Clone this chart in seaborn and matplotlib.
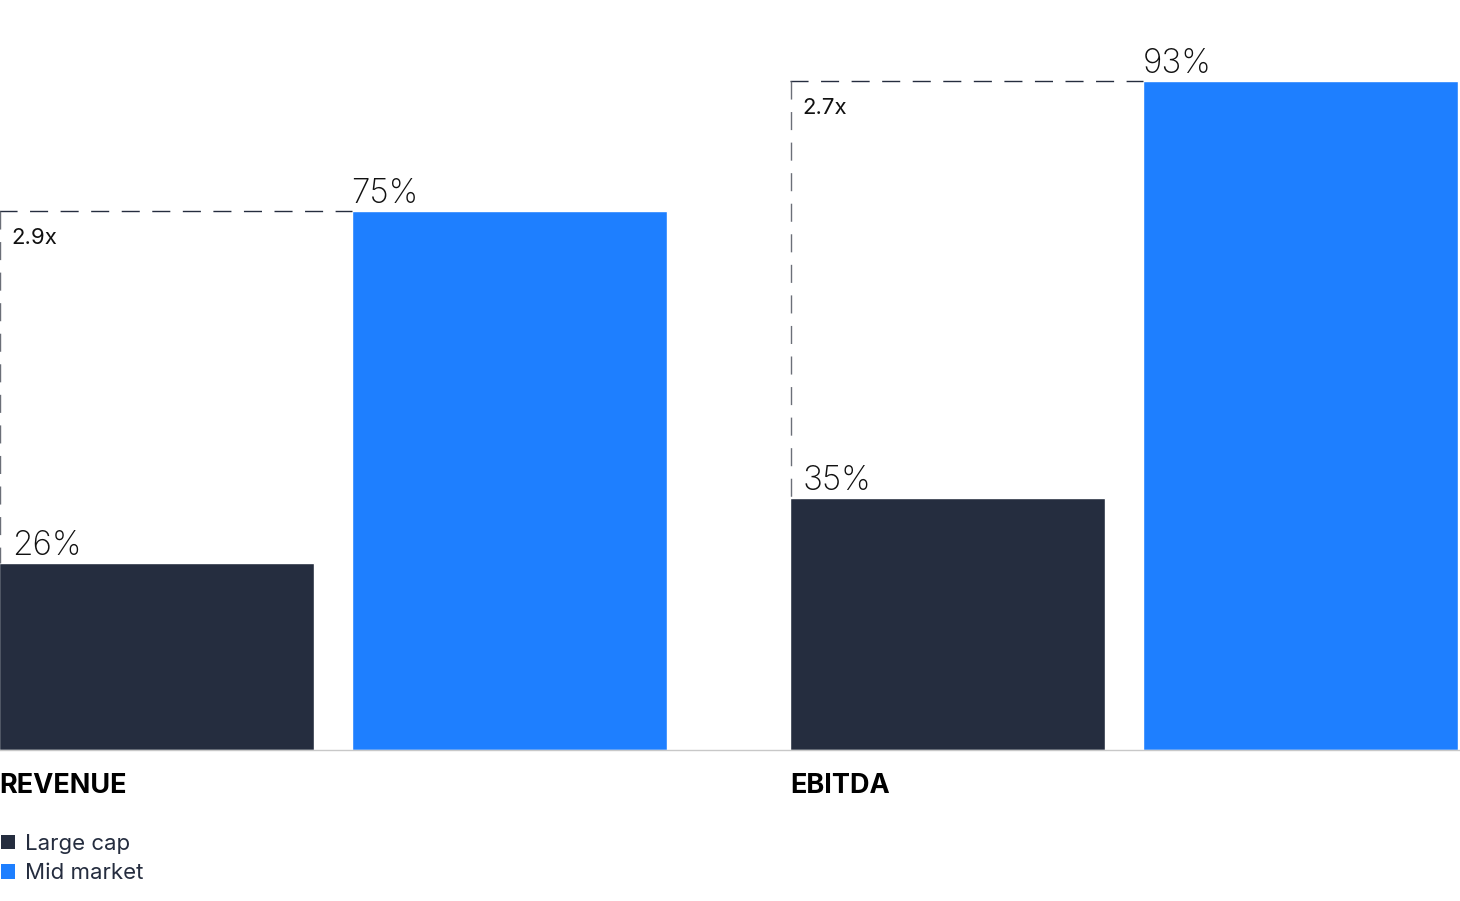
import pandas as pd
import matplotlib
matplotlib.use("Agg")
import matplotlib.pyplot as plt
import seaborn as sns
from matplotlib.patches import Patch

metrics = ["REVENUE", "EBITDA"]
segments = ["Large cap", "Mid market"]
large_cap = [26, 35]
mid_market = [75, 93]
multiples = ["2.9x", "2.7x"]

colors = {"Large cap": "#252d3f", "Mid market": "#1e7fff"}

df = pd.DataFrame({
    "Metric": metrics * 2,
    "Segment": ["Large cap"] * 2 + ["Mid market"] * 2,
    "Value": large_cap + mid_market,
})

sns.set_style("white")
plt.rcParams["font.family"] = ["Inter", "DejaVu Sans"]

fig = plt.figure(figsize=(14.6, 9.01), dpi=100)
ax = fig.add_axes([0, 151 / 901, 1, 750 / 901])

sns.barplot(data=df, x="Metric", y="Value", hue="Segment", order=metrics,
            hue_order=segments, palette=colors, width=0.893, gap=0.108,
            saturation=1, legend=False, ax=ax)

ax.set_xlim(-0.4212, 1.4246)
ax.set_ylim(0, 104.3)
ax.set_xlabel("")
ax.set_ylabel("")
ax.set_xticks([])
ax.set_yticks([])
for s in ["top", "right", "left"]:
    ax.spines[s].set_visible(False)
ax.spines["bottom"].set_color("#c8c8c8")
ax.spines["bottom"].set_linewidth(1)

# bars come in hue order: large cap (rev, ebitda), mid market (rev, ebitda)
bars = ax.patches
lc_bars = bars[:2]
mm_bars = bars[2:4]

for i in range(2):
    lc = lc_bars[i]
    mm = mm_bars[i]
    x0 = lc.get_x()
    xm = mm.get_x()
    h_lc = lc.get_height()
    h_mm = mm.get_height()
    dash = (0, (13, 9))
    ax.plot([x0, xm], [h_mm, h_mm], color="#252d3f", lw=1, ls=dash,
            clip_on=False, solid_capstyle="butt")
    ax.plot([x0 + 0.0008, x0 + 0.0008], [h_mm, h_lc], color="#6b6f78", lw=1,
            ls=dash, clip_on=False)
    ax.text(x0 + 0.016, h_lc + 1.1, f"{large_cap[i]}%", fontsize=24,
            fontweight="light", color="#111111", ha="left", va="baseline")
    ax.text(xm - 0.001, h_mm + 1.1, f"{mid_market[i]}%", fontsize=24,
            fontweight="light", color="#111111", ha="left", va="baseline")
    ax.text(x0 + 0.015, h_mm - 4.6, multiples[i], fontsize=16,
            color="#111111", ha="left", va="baseline")
    ax.text(x0, -6.0, metrics[i], fontsize=19.5, fontweight="bold",
            color="#000000", ha="left", va="baseline", clip_on=False)

handles = [Patch(facecolor=colors[s], edgecolor="none", label=s) for s in segments]
leg = fig.legend(handles=handles, loc="upper left", frameon=False, fontsize=16,
                 handlelength=0.6, handleheight=0.6, handletextpad=0.45,
                 labelspacing=0.42, borderaxespad=0, borderpad=0)
leg.set_bbox_to_anchor((0.001, 1 - 834 / 901), transform=fig.transFigure)
for t in leg.get_texts():
    t.set_color("#252d3f")

fig.savefig("out.png", dpi=100)
